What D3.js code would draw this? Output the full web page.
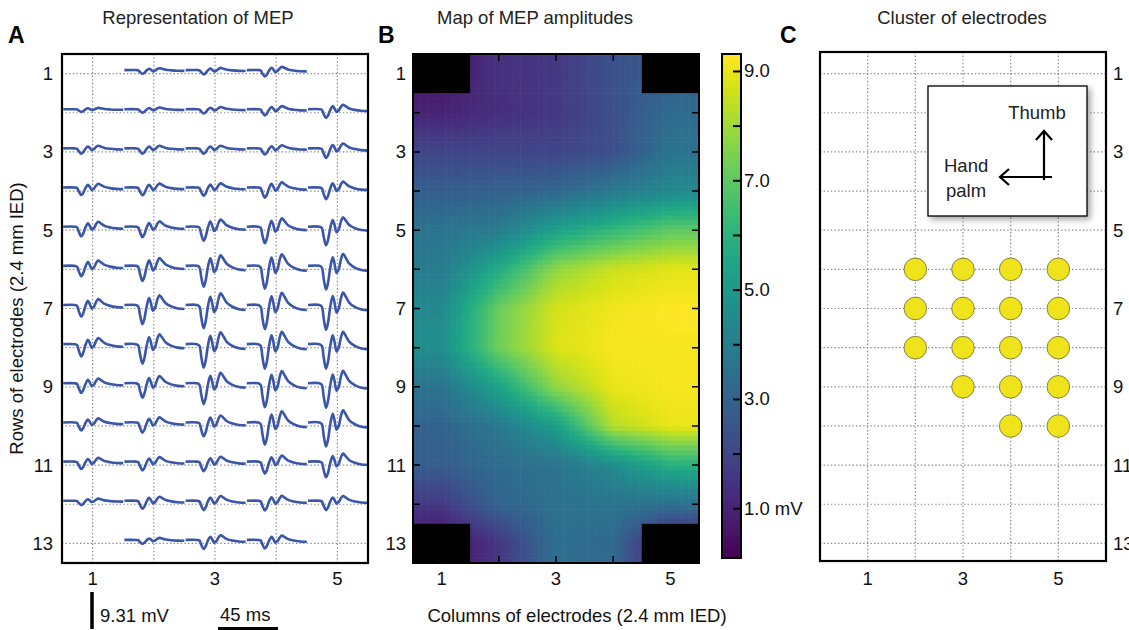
<!DOCTYPE html>
<html>
<head>
<meta charset="utf-8">
<script src="https://cdn.jsdelivr.net/npm/d3@7"></script>
<style>
  body { margin: 0; background: #fff; }
  svg { font-family: "Liberation Sans", Arial, Helvetica, sans-serif; }
</style>
</head>
<body>
<svg id="fig" width="1129" height="630"></svg>
<script>
// electrode grid: 13 rows x 5 columns
const rows = [1, 2, 3, 4, 5, 6, 7, 8, 9, 10, 11, 12, 13];
const cols = [1, 2, 3, 4, 5];
const rowLabels = [1, 3, 5, 7, 9, 11, 13];
const colLabels = [1, 3, 5];
const missing = [[1, 1], [1, 5], [13, 1], [13, 5]];

// peak-to-peak MEP amplitude (mV) (corner cells are hidden)
const mepAmplitude = [
  [0.6, 1.4, 1.6, 2.4, 2.8],
  [1.0, 1.3, 1.6, 2.3, 3.3],
  [2.0, 2.0, 2.0, 2.3, 3.6],
  [2.8, 2.9, 3.1, 3.8, 4.4],
  [3.6, 3.9, 5.3, 6.2, 7.0],
  [3.9, 5.7, 7.8, 8.6, 8.9],
  [4.4, 7.2, 8.7, 9.1, 9.3],
  [4.6, 7.3, 8.8, 9.2, 9.2],
  [3.6, 5.4, 7.8, 9.0, 9.2],
  [3.0, 3.8, 5.2, 8.3, 9.0],
  [2.8, 3.3, 3.6, 4.5, 5.9],
  [1.6, 3.0, 3.5, 3.6, 3.5],
  [0.4, 1.5, 3.4, 3.2, 0.5],
];

// MEP waveform shape, time in ms and value relative to peak-to-peak
const templateMs = [0, 8.6, 10.4, 11.7, 13.5, 14.9, 16.7, 18.5, 19.8, 21.4, 23, 24.8, 26.3, 28.4, 31, 35.1, 40, 45];
const templateV = [0, 0, -0.05, -0.35, -0.67, -0.5, -0.05, 0.24, 0.08, -0.2, -0.1, 0.2, 0.34, 0.22, 0.06, -0.05, -0.12, -0.14];

const colorbarTicks = [1, 2, 3, 4, 5, 6, 7, 8, 9];
const ampMin = 0.09;
const ampMax = 9.31;

// electrodes of the cluster (row, column)
const cluster = [
  [6, 2], [6, 3], [6, 4], [6, 5],
  [7, 2], [7, 3], [7, 4], [7, 5],
  [8, 2], [8, 3], [8, 4], [8, 5],
  [9, 3], [9, 4], [9, 5],
  [10, 4], [10, 5],
];

const svg = d3.select("#fig");
const fontSize = "18.5px";
const traceColor = "#3a56a8";
const gridColor = "#8a8a8a";

const yR = d3.scaleLinear().domain([0.5, 13.5]).range([54, 563]);
const xA = d3.scaleLinear().domain([0.5, 5.5]).range([62, 368]);
const xB = d3.scaleLinear().domain([0.5, 5.5]).range([413, 699]);
const xC = d3.scaleLinear().domain([0, 6]).range([820, 1106]);
const tScale = d3.scaleLinear().domain([0, 45]).range([-0.48, 0.5]);
const ampPx = d3.scaleLinear().domain([0, ampMax]).range([0, 37]);
const color = d3.scaleSequential(d3.interpolateViridis).domain([ampMin, ampMax]);
const cbY = d3.scaleLinear().domain([ampMin, ampMax]).range([558, 54]);

const isMissing = (r, c) => missing.some((m) => m[0] === r && m[1] === c);

function drawGrid(g, x, y, x0, x1, y0, y1) {
  g.selectAll(".gv")
    .data(cols)
    .join("line")
    .attr("class", "gv")
    .attr("x1", (d) => x(d)).attr("x2", (d) => x(d))
    .attr("y1", y0).attr("y2", y1)
    .attr("stroke", gridColor).attr("stroke-width", 1.2)
    .attr("stroke-dasharray", "1.4,2.2");
  g.selectAll(".gh")
    .data(rows)
    .join("line")
    .attr("class", "gh")
    .attr("y1", (d) => y(d)).attr("y2", (d) => y(d))
    .attr("x1", x0).attr("x2", x1)
    .attr("stroke", gridColor).attr("stroke-width", 1.2)
    .attr("stroke-dasharray", "1.4,2.2");
}

function labelText(g, data, xf, yf, anchor) {
  g.selectAll(null)
    .data(data)
    .join("text")
    .attr("x", xf).attr("y", yf)
    .attr("dy", "0.35em")
    .attr("text-anchor", anchor)
    .style("font-size", fontSize)
    .attr("fill", "#111")
    .text((d) => d);
}

// titles and panel letters
const titles = [
  { t: "Representation of MEP", x: 198 },
  { t: "Map of MEP amplitudes", x: 535 },
  { t: "Cluster of electrodes", x: 962 },
];
svg.selectAll(".title")
  .data(titles)
  .join("text")
  .attr("class", "title")
  .attr("x", (d) => d.x).attr("y", 24)
  .attr("text-anchor", "middle")
  .style("font-size", fontSize)
  .attr("fill", "#222")
  .text((d) => d.t);

svg.selectAll(".letter")
  .data([{ t: "A", x: 8 }, { t: "B", x: 378 }, { t: "C", x: 780 }])
  .join("text")
  .attr("class", "letter")
  .attr("x", (d) => d.x).attr("y", 43)
  .style("font-size", "23px")
  .style("font-weight", "bold")
  .text((d) => d.t);

// ---------- Panel A: MEP traces ----------
const gA = svg.append("g");
drawGrid(gA, xA, yR, xA.range()[0], xA.range()[1], yR.range()[0], yR.range()[1]);

const electrodes = [];
rows.forEach((r) => cols.forEach((c) => {
  if (!isMissing(r, c)) electrodes.push({ r, c, amp: mepAmplitude[r - 1][c - 1] });
}));

const trace = d3.line().curve(d3.curveCatmullRom.alpha(0.5));
gA.selectAll(".trace")
  .data(electrodes)
  .join("path")
  .attr("class", "trace")
  .attr("d", (e) => trace(templateMs.map((ms, i) => [
    xA(e.c + tScale(ms)),
    yR(e.r) - 3.5 - ampPx(e.amp * templateV[i]),
  ])))
  .attr("fill", "none")
  .attr("stroke", traceColor)
  .attr("stroke-width", 2.6)
  .attr("stroke-linejoin", "round");

gA.append("rect")
  .attr("x", xA.range()[0]).attr("y", yR.range()[0])
  .attr("width", xA.range()[1] - xA.range()[0])
  .attr("height", yR.range()[1] - yR.range()[0])
  .attr("fill", "none").attr("stroke", "#000").attr("stroke-width", 2.2);

labelText(gA, rowLabels, 53, (d) => yR(d), "end");
labelText(gA, colLabels, (d) => xA(d), 579, "middle");

gA.append("text")
  .attr("transform", `translate(23,${(yR.range()[0] + yR.range()[1]) / 2 + 10}) rotate(-90)`)
  .attr("text-anchor", "middle")
  .style("font-size", fontSize)
  .attr("fill", "#111")
  .text("Rows of electrodes (2.4 mm IED)");

// scale bars
gA.append("line")
  .attr("x1", 92).attr("x2", 92)
  .attr("y1", 592).attr("y2", 592 + ampPx(ampMax))
  .attr("stroke", "#000").attr("stroke-width", 3.5);
gA.append("text").attr("x", 100).attr("y", 622)
  .style("font-size", fontSize).attr("fill", "#111").text("9.31 mV");
const msW = (xA(1) - xA(0)) * (tScale(45) - tScale(0));
gA.append("line")
  .attr("x1", 218).attr("x2", 218 + msW)
  .attr("y1", 628.5).attr("y2", 628.5)
  .attr("stroke", "#000").attr("stroke-width", 3);
gA.append("text").attr("x", 220).attr("y", 621)
  .style("font-size", fontSize).attr("fill", "#111").text("45 ms");

// ---------- Panel B: amplitude map ----------
const gB = svg.append("g");
function ampAt(r, c) {
  const rr = Math.max(1, Math.min(13, r));
  const cc = Math.max(1, Math.min(5, c));
  const r0 = Math.min(12, Math.floor(rr)), c0 = Math.min(4, Math.floor(cc));
  const fr = rr - r0, fc = cc - c0;
  const a = mepAmplitude;
  const top = a[r0 - 1][c0 - 1] * (1 - fc) + a[r0 - 1][c0] * fc;
  const bot = a[r0][c0 - 1] * (1 - fc) + a[r0][c0] * fc;
  return top * (1 - fr) + bot * fr;
}
const subC = 16, subR = 8;
const cells = [];
for (let i = 0; i < 5 * subC; i++) {
  for (let j = 0; j < 13 * subR; j++) {
    const c = 0.5 + (i + 0.5) / subC;
    const r = 0.5 + (j + 0.5) / subR;
    cells.push({ i, j, v: ampAt(r, c) });
  }
}
const cw = (xB.range()[1] - xB.range()[0]) / (5 * subC);
const ch = (yR.range()[1] - yR.range()[0]) / (13 * subR);
gB.selectAll(".px")
  .data(cells)
  .join("rect")
  .attr("class", "px")
  .attr("x", (d) => xB(0.5 + d.i / subC))
  .attr("y", (d) => yR(0.5 + d.j / subR))
  .attr("width", cw + 0.6)
  .attr("height", ch + 0.6)
  .attr("fill", (d) => color(d.v));

gB.selectAll(".corner")
  .data(missing)
  .join("rect")
  .attr("class", "corner")
  .attr("x", (d) => xB(d[1] - 0.5)).attr("y", (d) => yR(d[0] - 0.5))
  .attr("width", xB(1) - xB(0)).attr("height", yR(1) - yR(0))
  .attr("fill", "#000");

const tick = 7;
gB.selectAll(".tl")
  .data(rows)
  .join("path")
  .attr("class", "tl")
  .attr("d", (d) => `M${xB.range()[0]},${yR(d)}h${tick}M${xB.range()[1]},${yR(d)}h${-tick}`)
  .attr("stroke", "#000").attr("stroke-width", 1.5);
gB.selectAll(".tc")
  .data(cols)
  .join("path")
  .attr("class", "tc")
  .attr("d", (d) => `M${xB(d)},${yR.range()[0]}v${tick}M${xB(d)},${yR.range()[1]}v${-tick}`)
  .attr("stroke", "#000").attr("stroke-width", 1.5);

gB.append("rect")
  .attr("x", xB.range()[0]).attr("y", yR.range()[0])
  .attr("width", xB.range()[1] - xB.range()[0])
  .attr("height", yR.range()[1] - yR.range()[0])
  .attr("fill", "none").attr("stroke", "#000").attr("stroke-width", 2);

labelText(gB, rowLabels, 406, (d) => yR(d), "end");
labelText(gB, colLabels, (d) => xB(d), 579, "middle");

svg.append("text")
  .attr("x", 577).attr("y", 622)
  .attr("text-anchor", "middle")
  .style("font-size", fontSize)
  .attr("fill", "#111")
  .text("Columns of electrodes (2.4 mm IED)");

// colorbar
const gCb = svg.append("g");
const cbX0 = 722, cbX1 = 741;
const slices = d3.range(0, 160).map((k) => ampMin + (ampMax - ampMin) * k / 160);
const sliceH = (cbY(ampMin) - cbY(ampMax)) / 160;
gCb.selectAll(".cb")
  .data(slices)
  .join("rect")
  .attr("class", "cb")
  .attr("x", cbX0).attr("width", cbX1 - cbX0)
  .attr("y", (d) => cbY(d) - sliceH - 0.4)
  .attr("height", sliceH + 0.8)
  .attr("fill", (d) => color(d + (ampMax - ampMin) / 320));
gCb.append("rect")
  .attr("x", cbX0).attr("y", cbY(ampMax))
  .attr("width", cbX1 - cbX0).attr("height", cbY(ampMin) - cbY(ampMax))
  .attr("fill", "none").attr("stroke", "#000").attr("stroke-width", 2);
gCb.append("g")
  .attr("transform", `translate(${cbX1},0)`)
  .call(d3.axisRight(cbY).tickValues(colorbarTicks).tickSize(-8).tickPadding(3)
    .tickFormat((d) => (d % 2 ? d.toFixed(1) + (d === 1 ? " mV" : "") : "")))
  .call((g) => g.select(".domain").remove())
  .call((g) => g.selectAll("line").attr("stroke-width", 2))
  .call((g) => g.selectAll("text").style("font-size", fontSize)
    .attr("fill", "#111").style("font-family", "Liberation Sans, Arial, sans-serif"));

// ---------- Panel C: cluster ----------
const gC = svg.append("g");
const cTop = yR.range()[0] - 2, cBot = yR.range()[1] - 2;
drawGrid(gC, xC, yR, xC.range()[0], xC.range()[1], cTop, cBot);

const defs = svg.append("defs");
defs.append("filter").attr("id", "shadow")
  .attr("x", "-20%").attr("y", "-20%").attr("width", "150%").attr("height", "150%")
  .append("feDropShadow")
  .attr("dx", 3).attr("dy", 3).attr("stdDeviation", 3)
  .attr("flood-color", "#000").attr("flood-opacity", 0.35);

const box = { x: 928, y: 86, w: 159, h: 130 };
gC.append("rect")
  .attr("x", box.x).attr("y", box.y).attr("width", box.w).attr("height", box.h)
  .attr("fill", "#fff").attr("stroke", "#000").attr("stroke-width", 1.3)
  .attr("filter", "url(#shadow)");
gC.append("path")
  .attr("d", "M1044,180V131M1036,140L1044,131L1052,140M1052,177H1000M1009,169L1000,177L1009,185")
  .attr("fill", "none").attr("stroke", "#000").attr("stroke-width", 2.2);
gC.append("text").attr("x", 1037).attr("y", 119).attr("text-anchor", "middle")
  .style("font-size", fontSize).attr("fill", "#222").text("Thumb");
gC.append("text").attr("x", 944).attr("y", 172)
  .style("font-size", fontSize).attr("fill", "#222").text("Hand");
gC.append("text").attr("x", 946).attr("y", 197)
  .style("font-size", fontSize).attr("fill", "#222").text("palm");

gC.selectAll(".el")
  .data(cluster)
  .join("circle")
  .attr("class", "el")
  .attr("cx", (d) => xC(d[1])).attr("cy", (d) => yR(d[0]))
  .attr("r", 11.3)
  .attr("fill", "#efe31b")
  .attr("stroke", "#6d6a3a").attr("stroke-width", 0.8);

gC.append("rect")
  .attr("x", xC.range()[0]).attr("y", cTop)
  .attr("width", xC.range()[1] - xC.range()[0]).attr("height", cBot - cTop)
  .attr("fill", "none").attr("stroke", "#000").attr("stroke-width", 2.2);

labelText(gC, rowLabels, 1113, (d) => yR(d), "start");
labelText(gC, colLabels, (d) => xC(d), 579, "middle");
</script>
</body>
</html>
